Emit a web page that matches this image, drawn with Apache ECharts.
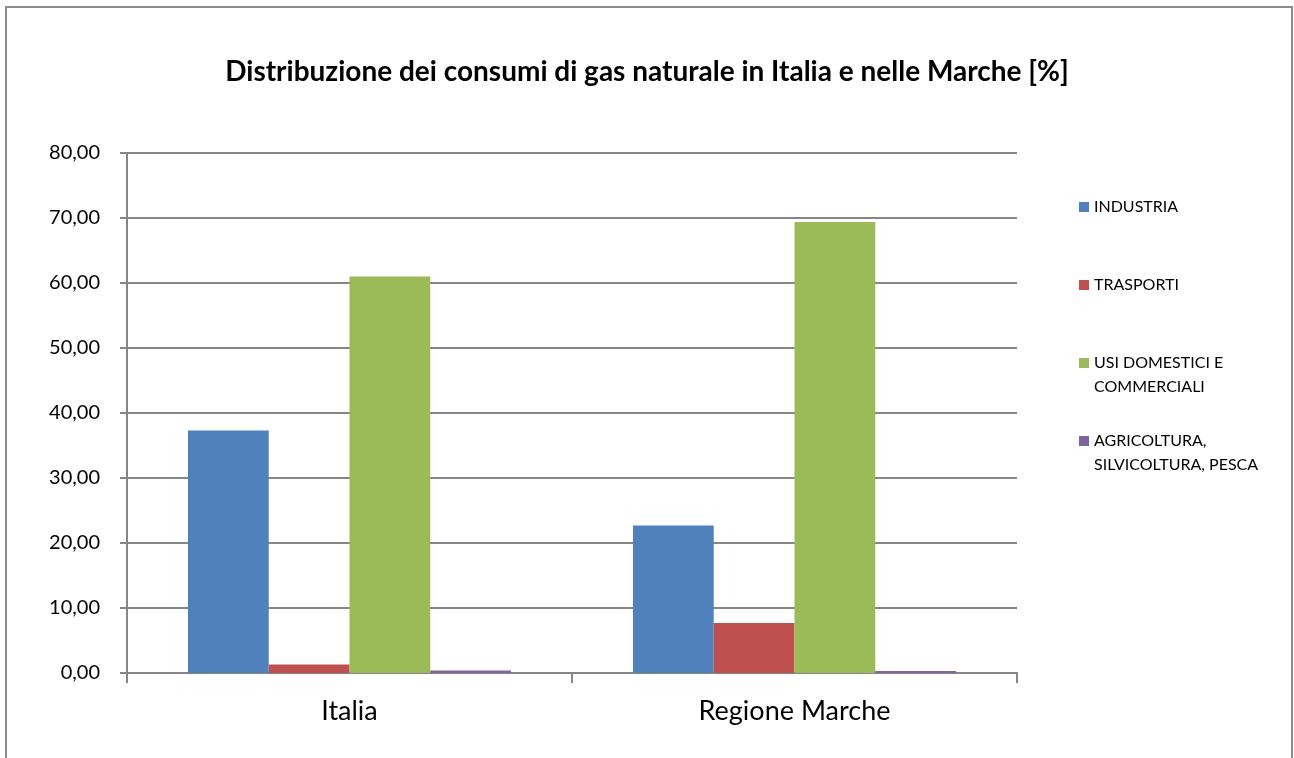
<!DOCTYPE html>
<html>
<head>
<meta charset="utf-8">
<title>Distribuzione dei consumi di gas naturale</title>
<script src="https://cdn.jsdelivr.net/npm/echarts@6/dist/echarts.min.js"></script>
<style>
  html, body { margin: 0; padding: 0; background: #fff; }
  #frame { position: absolute; left: 5px; top: 6px; width: 1284px; height: 800px;
           border: 2px solid #8c8c8c; border-bottom: none; }
  #chart { position: absolute; left: 0; top: 0; width: 1294px; height: 758px; }
</style>
</head>
<body>
<div id="frame"></div>
<div id="chart"></div>
<script>
const categories = ['Italia', 'Regione Marche']
const seriesNames = ['INDUSTRIA', 'TRASPORTI', 'USI DOMESTICI E COMMERCIALI', 'AGRICOLTURA, SILVICOLTURA, PESCA']
const industria = [37.3, 22.7]
const trasporti = [1.3, 7.7]
const usiDomestici = [61.0, 69.4]
const agricoltura = [0.4, 0.3]
const yTicks = [0, 10, 20, 30, 40, 50, 60, 70, 80]

const colors = ['#4f81bd', '#c0504d', '#9bbb59', '#8064a2']
const values = [industria, trasporti, usiDomestici, agricoltura]
const font = 'Lato, "Open Sans", sans-serif'

// legend labels wrap like the original; a blank first line keeps the swatch on the first row
const legendLabels = {
  'INDUSTRIA': 'INDUSTRIA',
  'TRASPORTI': 'TRASPORTI',
  'USI DOMESTICI E COMMERCIALI': '\nUSI DOMESTICI E\nCOMMERCIALI',
  'AGRICOLTURA, SILVICOLTURA, PESCA': '\nAGRICOLTURA,\nSILVICOLTURA, PESCA'
}
const swatchCenters = [207, 285, 363, 441]
const lineH = 23.5

const chart = echarts.init(document.getElementById('chart'))

const legends = seriesNames.map((name, i) => {
  const lines = legendLabels[name].split('\n').length
  return {
    data: [name],
    left: 1079,
    top: swatchCenters[i] - lines * lineH / 2,
    padding: 0,
    itemWidth: 10,
    itemHeight: 10,
    icon: 'rect',
    selectedMode: false,
    formatter: n => legendLabels[n],
    textStyle: { fontFamily: font, fontSize: 16, color: '#000', lineHeight: lineH }
  }
})

chart.setOption({
  animation: false,
  color: colors,
  title: {
    text: 'Distribuzione dei consumi di gas naturale in Italia e nelle Marche [%]',
    left: 'center',
    top: 53,
    textStyle: { fontFamily: font, fontSize: 28, fontWeight: 'bold', color: '#000' }
  },
  legend: legends,
  grid: { left: 127, right: 277, top: 153, bottom: 85 },
  xAxis: {
    type: 'category',
    data: categories,
    axisLine: { lineStyle: { color: '#868686', width: 2 } },
    axisTick: { show: true, length: 10, lineStyle: { color: '#868686', width: 2 } },
    axisLabel: { fontFamily: font, fontSize: 27, color: '#000', margin: 25 }
  },
  yAxis: {
    type: 'value',
    min: yTicks[0],
    max: yTicks[yTicks.length - 1],
    interval: 10,
    axisLine: { show: true, lineStyle: { color: '#868686', width: 2 } },
    axisTick: { show: true, length: 7, lineStyle: { color: '#868686', width: 2 } },
    splitLine: { lineStyle: { color: '#868686', width: 2 } },
    axisLabel: {
      fontFamily: font, fontSize: 20, color: '#000', margin: 27,
      formatter: v => v.toFixed(2).replace('.', ',')
    }
  },
  series: seriesNames.map((name, i) => ({
    name: name,
    type: 'bar',
    data: values[i],
    barGap: '0%',
    barCategoryGap: '27.4%',
    itemStyle: { color: colors[i] }
  }))
})
</script>
</body>
</html>
